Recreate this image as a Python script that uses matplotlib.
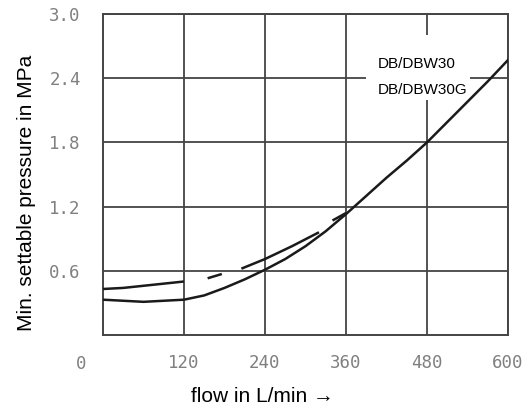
import matplotlib
matplotlib.use('Agg')
import matplotlib.pyplot as plt
from matplotlib import font_manager
from matplotlib.patches import Rectangle

# lower curve (solid)
lower_flow = [0, 30, 60, 90, 120, 150, 180, 210, 240, 270, 300, 330, 360, 390, 420, 450, 480, 510, 540, 570, 600]
lower_p = [0.33, 0.32, 0.31, 0.32, 0.33, 0.37, 0.44, 0.52, 0.61, 0.71, 0.83, 0.97, 1.13, 1.30, 1.47, 1.63, 1.80, 1.99, 2.18, 2.37, 2.57]

# upper curve, drawn in pieces (broken line)
upper_segments = [
    ([0, 30, 60, 90, 120], [0.43, 0.44, 0.46, 0.48, 0.50]),
    ([155, 176], [0.53, 0.57]),
    ([205, 240, 280, 320], [0.62, 0.71, 0.83, 0.96]),
    ([340, 360], [1.07, 1.14]),
]

x_ticks = [120, 240, 360, 480, 600]
y_ticks = [0.6, 1.2, 1.8, 2.4, 3.0]
labels = ["DB/DBW30", "DB/DBW30G"]

# narrow font for the legend text if there is one
try:
    font_manager.findfont('Liberation Sans Narrow', fallback_to_default=False)
    legend_font, legend_size = 'Liberation Sans Narrow', 13
except ValueError:
    legend_font, legend_size = 'Liberation Sans', 11

fig = plt.figure(figsize=(5.24, 4.08), dpi=100)
ax = fig.add_axes([103/524, 1 - 335/408, (508-103)/524, (335-14)/408])

ax.set_xlim(0, 600)
ax.set_ylim(0, 3.0)
ax.set_xticks(x_ticks)
ax.set_yticks(y_ticks)
ax.set_xticklabels([str(v) for v in x_ticks])
ax.set_yticklabels(["%.1f" % v for v in y_ticks])
ax.tick_params(length=0, colors='#808080', labelsize=12.5)
ax.tick_params(axis='x', pad=14)
ax.tick_params(axis='y', pad=16)
for t in ax.get_xticklabels() + ax.get_yticklabels():
    t.set_family('DejaVu Sans Mono')
ax.text(-32, -0.062, "0", transform=ax.get_xaxis_transform(), ha='center', va='top',
        color='#808080', fontsize=12.5, family='DejaVu Sans Mono')

ax.set_axisbelow(True)
ax.grid(True, color='#444444', lw=1.3)
for s in ax.spines.values():
    s.set_color('#444444')
    s.set_linewidth(1.4)

# white box behind the legend text
ax.add_patch(Rectangle((390, 2.20), 153, 0.60, facecolor='white', edgecolor='none', zorder=1))

ax.plot(lower_flow, lower_p, color='#1a1a1a', lw=1.8, zorder=3)
for fx, fy in upper_segments:
    ax.plot(fx, fy, color='#1a1a1a', lw=1.8, zorder=3, solid_capstyle='butt')

ax.text(407, 2.535, labels[0], ha='left', va='center', fontsize=legend_size,
        family=legend_font, color='black', zorder=4)
ax.text(407, 2.29, labels[1], ha='left', va='center', fontsize=legend_size,
        family=legend_font, color='black', zorder=4)

fig.text(262/524, 1 - 396/408, "flow in L/min →", ha='center', va='center',
         fontsize=15, family=['Liberation Sans', 'DejaVu Sans'])
fig.text(27/524, 1 - 193/408, "Min. settable pressure in MPa", ha='center', va='center',
         rotation=90, fontsize=15, family='Liberation Sans')

fig.savefig('out.png', dpi=100)
